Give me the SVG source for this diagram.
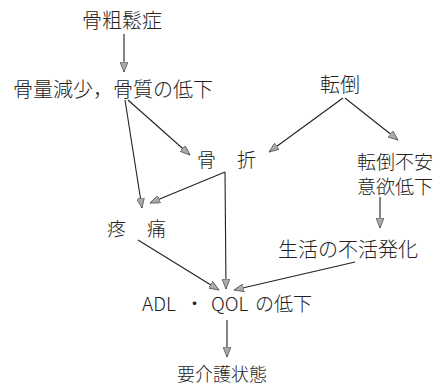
<svg xmlns="http://www.w3.org/2000/svg" width="441" height="386" viewBox="0 0 441 386">
<style>
text{font-family:"Noto Sans CJK JP","Noto Sans",sans-serif;font-size:20px;fill:#222;font-weight:300}
.c line{stroke:#222;stroke-width:1.1;marker-end:url(#ah)}
</style>
<defs>
<marker id="ah" viewBox="0 0 10 8" refX="10" refY="4" markerWidth="10" markerHeight="8" markerUnits="userSpaceOnUse" orient="auto">
<path d="M0,0 L10,4 L0,8 Z" fill="#aaa" stroke="#555" stroke-width="0.8"/>
</marker>
</defs>
<rect width="441" height="386" fill="#fff"/>
<g id="n1"><text x="82" y="28">骨粗鬆症</text></g>
<g id="n2"><text x="13" y="97">骨量減少，骨質の低下</text></g>
<g id="n3"><text x="320" y="92">転倒</text></g>
<g id="n4"><text x="197" y="167" style="font-size:19px">骨</text><text x="237" y="167" style="font-size:19px">折</text></g>
<g id="n5"><text x="357" y="169" style="font-size:19px">転倒不安</text><text x="357" y="194" style="font-size:19px">意欲低下</text></g>
<g id="n6"><text x="107" y="236" style="font-size:19px">疼</text><text x="147" y="236" style="font-size:19px">痛</text></g>
<g id="n7"><text x="278" y="257">生活の不活発化</text></g>
<g id="n8"><text y="311" style="font-size:19px"><tspan x="142">ADL</tspan><tspan x="185">・</tspan><tspan x="211">QOL</tspan><tspan x="255">の低下</tspan></text></g>
<g id="n9"><text x="177" y="381" style="font-size:18px">要介護状態</text></g>
<g class="c" id="connectors">
<line x1="124" y1="34" x2="124" y2="72"/>
<line x1="128" y1="100" x2="190" y2="155"/>
<line x1="125" y1="100" x2="142" y2="208"/>
<line x1="225" y1="172" x2="150" y2="203"/>
<line x1="225" y1="172" x2="226" y2="289" />
<line x1="343" y1="98" x2="269" y2="152"/>
<line x1="345" y1="98" x2="398" y2="140"/>
<line x1="380" y1="197" x2="380" y2="228"/>
<line x1="138" y1="240" x2="219" y2="290"/>
<line x1="355" y1="262" x2="234" y2="290"/>
<line x1="227" y1="320" x2="227" y2="357"/>
</g>
</svg>
